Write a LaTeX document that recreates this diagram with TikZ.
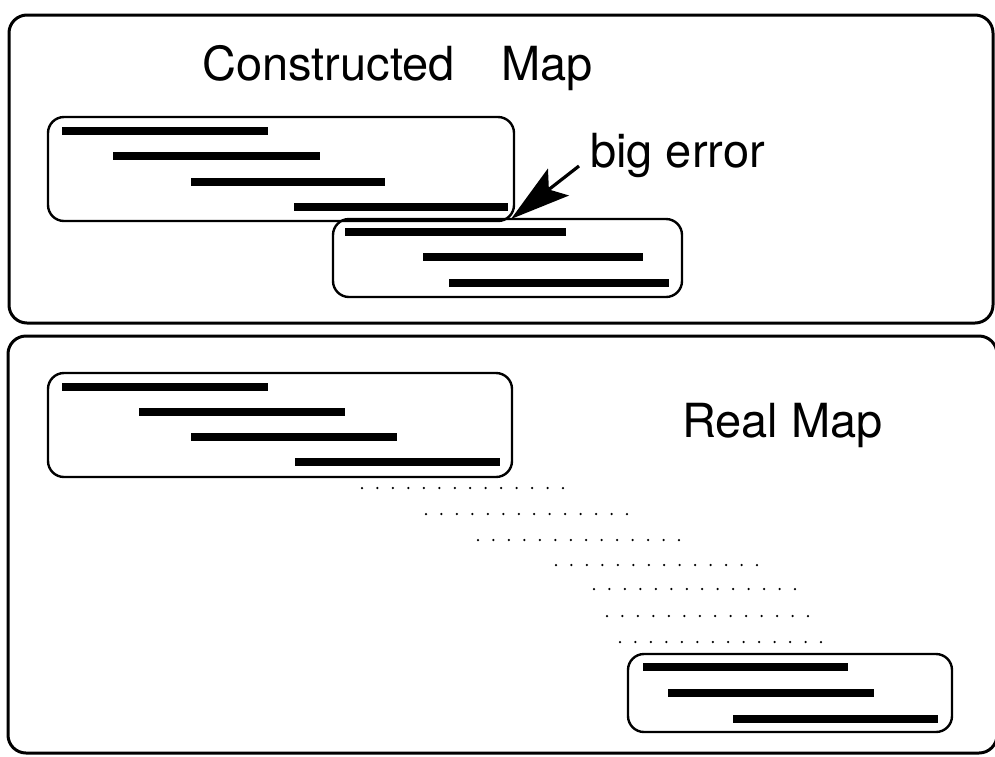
\documentclass[tikz,border=0pt]{standalone}
\usepackage{fontspec}
\setmainfont{TeX Gyre Heros}
\usetikzlibrary{arrows.meta}
\begin{document}
\begin{tikzpicture}[x=1pt,y=-1pt,
  panel/.style={draw, line width=3pt, rounded corners=18pt},
  mapbox/.style={draw, line width=2.4pt, rounded corners=16pt},
  bar/.style={line width=8pt},
  lbl/.style={font=\fontsize{47}{51}\selectfont, inner sep=0pt, anchor=base west}]
\useasboundingbox (0,0) rectangle (995,756);
% panels
\draw[panel] (9,15) rectangle (993,323);
\draw[panel] (8,336) rectangle (997,753);
% top panel: constructed map
\node[lbl] (title) at (202,80) {Constructed\hspace{47pt}Map};
\draw[mapbox] (48,117) rectangle (514,221);
\draw[bar] (62,131) -- (268,131);
\draw[bar] (113,156) -- (320,156);
\draw[bar] (191,182) -- (385,182);
\draw[bar] (294,207) -- (508,207);
\draw[mapbox] (333,219) rectangle (682,297);
\draw[bar] (345,232) -- (566,232);
\draw[bar] (423,257) -- (643,257);
\draw[bar] (449,283) -- (669,283);
\node[lbl] (err) at (590,167) {big error};
\coordinate (errtail) at (579,166);
\coordinate (errtip) at (511,219);
\draw[line width=3.2pt, -{Stealth[length=60pt,width=34pt,inset=12pt]}] (errtail) -- (errtip);
% bottom panel: real map
\node[lbl] (real) at (682,437) {Real Map};
\draw[mapbox] (48,373) rectangle (512,477);
\draw[bar] (62,387) -- (268,387);
\draw[bar] (139,412) -- (345,412);
\draw[bar] (191,437) -- (397,437);
\draw[bar] (295,462) -- (500,462);
\foreach \yy/\xx in {488/362, 514/426, 540/478, 565/556, 589/594, 616/607, 642/620}
  \foreach \i in {0,...,13}
    \fill (\xx+\i*15.46, \yy) circle (1.25pt);
\draw[mapbox] (628,654) rectangle (952,732);
\draw[bar] (643,667) -- (848,667);
\draw[bar] (668,693) -- (874,693);
\draw[bar] (733,719) -- (938,719);
\end{tikzpicture}
\end{document}
